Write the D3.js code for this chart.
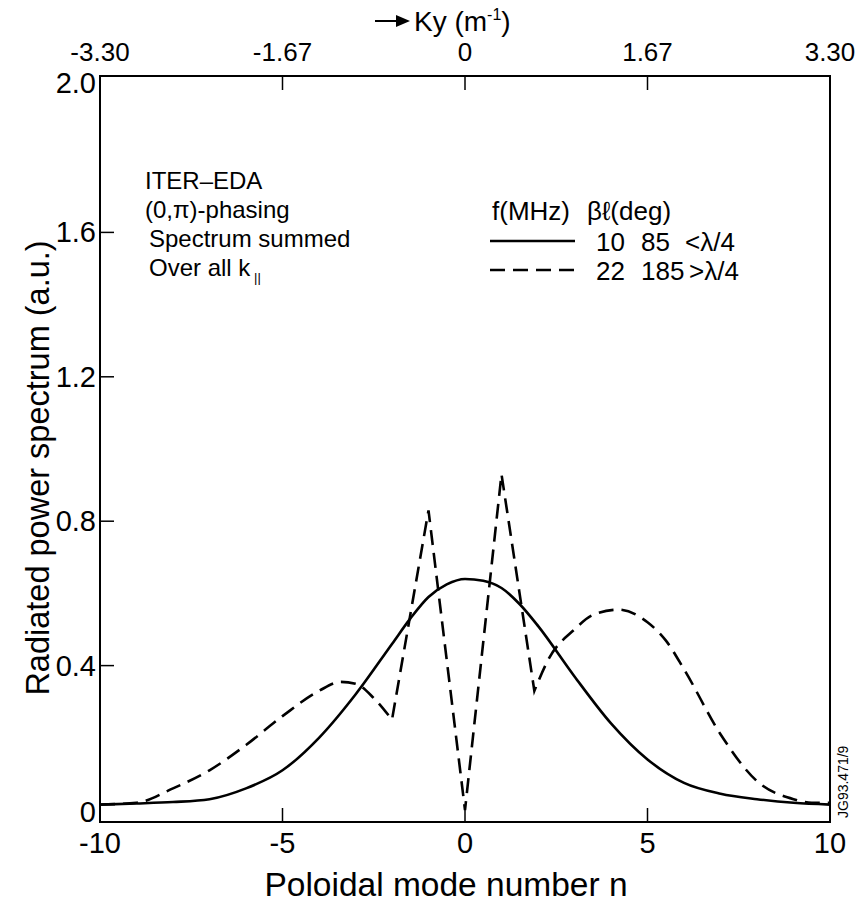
<!DOCTYPE html>
<html>
<head>
<meta charset="utf-8">
<script src="https://cdn.jsdelivr.net/npm/d3@7"></script>
<style>
  body { margin: 0; background: #fff; }
  svg { display: block; font-family: "Liberation Sans", Arial, Helvetica, sans-serif; }
</style>
</head>
<body>
<svg id="chart" width="864" height="905"></svg>
<script>
// axis ticks
const modeTicks = [-10, -5, 0, 5, 10];
const kyLabels = ["-3.30", "-1.67", "0", "1.67", "3.30"];
const powerTicks = [0, 0.4, 0.8, 1.2, 1.6, 2.0];
const powerLabels = ["0", "0.4", "0.8", "1.2", "1.6", "2.0"];

// 10 MHz, solid
const nSolid = [-10, -9, -8, -7, -6, -5, -4, -3, -2, -1.5, -1, -0.5, 0, 0.5, 1, 1.5, 2, 3, 4, 5, 6, 7, 8, 9, 10];
const pSolid = [0.015, 0.018, 0.022, 0.03, 0.06, 0.11, 0.2, 0.32, 0.46, 0.53, 0.59, 0.625, 0.64, 0.635, 0.615, 0.57, 0.51, 0.37, 0.24, 0.14, 0.075, 0.045, 0.03, 0.02, 0.015];

// 22 MHz, dashed (spikes between n=-2 and n=1.9 are straight)
const nDashed = [-10, -9, -8, -7, -6, -5, -4, -3.4, -3, -2.5, -2, -1, 0, 1, 1.9, 2.3, 3, 3.5, 4.2, 5, 5.5, 6, 7, 8, 9, 9.5, 10];
const pDashed = [0.015, 0.02, 0.06, 0.11, 0.18, 0.26, 0.33, 0.355, 0.35, 0.31, 0.25, 0.83, 0.0, 0.93, 0.33, 0.42, 0.5, 0.54, 0.555, 0.52, 0.47, 0.39, 0.21, 0.08, 0.03, 0.02, 0.02];
const spikeStart = -2, spikeEnd = 1.9;

const svg = d3.select("#chart");
const plotL = 100, plotR = 830, plotT = 76, plotB = 822;

const x = d3.scaleLinear().domain([-10, 10]).range([plotL, plotR]);
const y = d3.scaleLinear().domain([0, 2]).range([810, 88]);

// frame
svg.append("rect")
  .attr("x", plotL).attr("y", plotT)
  .attr("width", plotR - plotL).attr("height", plotB - plotT)
  .attr("fill", "none").attr("stroke", "#000").attr("stroke-width", 2);

// inward ticks
const inner = [-5, 0, 5];
svg.selectAll(".xtb").data(inner).enter().append("line")
  .attr("x1", d => x(d)).attr("x2", d => x(d))
  .attr("y1", plotB).attr("y2", plotB - 14)
  .attr("stroke", "#000").attr("stroke-width", 1.5);
svg.selectAll(".xtt").data(inner).enter().append("line")
  .attr("x1", d => x(d)).attr("x2", d => x(d))
  .attr("y1", plotT).attr("y2", plotT + 14)
  .attr("stroke", "#000").attr("stroke-width", 1.5);
svg.selectAll(".yt").data(powerTicks.slice(1, 5)).enter().append("line")
  .attr("x1", plotL).attr("x2", plotL + 14)
  .attr("y1", d => y(d)).attr("y2", d => y(d))
  .attr("stroke", "#000").attr("stroke-width", 1.5);

// tick labels
svg.selectAll(".xl").data(modeTicks).enter().append("text")
  .attr("x", d => x(d)).attr("y", 853)
  .attr("text-anchor", "middle").attr("font-size", 29)
  .text(d => d);
svg.selectAll(".kl").data(modeTicks).enter().append("text")
  .attr("x", d => x(d)).attr("y", 61)
  .attr("text-anchor", "middle").attr("font-size", 26)
  .text((d, i) => kyLabels[i]);
svg.selectAll(".yl").data(powerTicks).enter().append("text")
  .attr("x", plotL - 4).attr("y", (d, i) => y(d) + (i === 0 ? 12 : i === 5 ? 5 : 10))
  .attr("text-anchor", "end").attr("font-size", 29)
  .text((d, i) => powerLabels[i]);

// axis titles
svg.append("text")
  .attr("x", 446).attr("y", 896)
  .attr("text-anchor", "middle").attr("font-size", 33.5)
  .text("Poloidal mode number n");
svg.append("text")
  .attr("transform", "translate(49,468) rotate(-90)")
  .attr("text-anchor", "middle").attr("font-size", 32.5)
  .text("Radiated power spectrum (a.u.)");

const ky = svg.append("text")
  .attr("x", 414).attr("y", 31).attr("font-size", 28);
ky.append("tspan").text("Ky (m");
ky.append("tspan").attr("font-size", 16).attr("dy", -11).text("-1");
ky.append("tspan").attr("dy", 11).text(")");
svg.append("line")
  .attr("x1", 375).attr("x2", 398).attr("y1", 21).attr("y2", 21)
  .attr("stroke", "#000").attr("stroke-width", 2);
svg.append("path")
  .attr("d", "M396,15 L410,21 L396,27 Z").attr("fill", "#000");

// annotation
const note = ["ITER\u2013EDA", "(0,\u03c0)-phasing", "Spectrum summed", "Over all k"];
svg.selectAll(".note").data(note).enter().append("text")
  .attr("x", (d, i) => i < 2 ? 145 : 149)
  .attr("y", (d, i) => 189 + i * 29)
  .attr("font-size", 24)
  .text(d => d);
svg.append("text")
  .attr("x", 254).attr("y", 282).attr("font-size", 13)
  .text("||");

// legend
const legY = [241, 270];
svg.append("text").attr("x", 492).attr("y", 220).attr("font-size", 26).text("f(MHz)");
svg.append("text").attr("x", 587).attr("y", 220).attr("font-size", 26).text("\u03b2\u2113(deg)");
const legRows = [["10", "85", "<\u03bb/4"], ["22", "185", ">\u03bb/4"]];
legRows.forEach((r, i) => {
  svg.append("line")
    .attr("x1", 490).attr("x2", 575).attr("y1", legY[i]).attr("y2", legY[i])
    .attr("stroke", "#000").attr("stroke-width", 2.5)
    .attr("stroke-dasharray", i === 1 ? "15,8" : null);
  svg.append("text").attr("x", 596).attr("y", legY[i] + 10).attr("font-size", 26).text(r[0]);
  svg.append("text").attr("x", 641).attr("y", legY[i] + 10).attr("font-size", 26).text(r[1]);
  svg.append("text").attr("x", i === 0 ? 685 : 689).attr("y", legY[i] + 10).attr("font-size", 26).text(r[2]);
});

// curves
const smooth = d3.line().x(d => x(d[0])).y(d => y(d[1])).curve(d3.curveMonotoneX);
const straight = d3.line().x(d => x(d[0])).y(d => y(d[1]));

const solidPts = nSolid.map((n, i) => [n, pSolid[i]]);
svg.append("path")
  .attr("d", smooth(solidPts))
  .attr("fill", "none").attr("stroke", "#000").attr("stroke-width", 2.6);

const dashPts = nDashed.map((n, i) => [n, pDashed[i]]);
const partA = dashPts.filter(d => d[0] <= spikeStart);
const partB = dashPts.filter(d => d[0] >= spikeStart && d[0] <= spikeEnd);
const partC = dashPts.filter(d => d[0] >= spikeEnd);
svg.append("path")
  .attr("d", smooth(partA) + straight(partB).replace(/^M/, "L") + smooth(partC).replace(/^M/, "L"))
  .attr("fill", "none").attr("stroke", "#000").attr("stroke-width", 2.6)
  .attr("stroke-dasharray", "15,8");

// figure code
svg.append("text")
  .attr("transform", "translate(848,818) rotate(-90)")
  .attr("font-size", 14)
  .text("JG93.471/9");
</script>
</body>
</html>
